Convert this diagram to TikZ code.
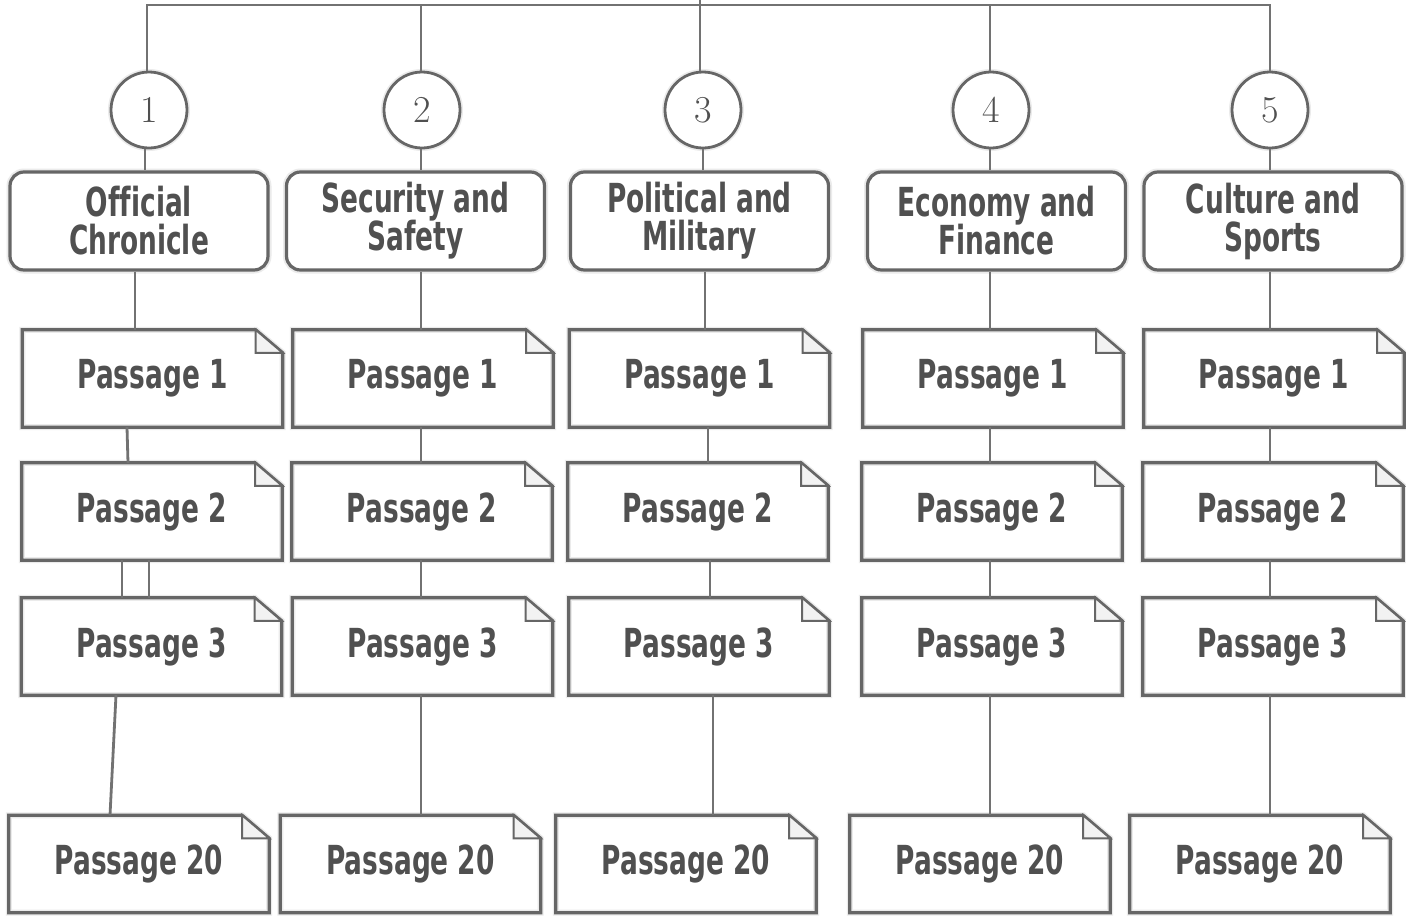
\documentclass[tikz,border=0pt]{standalone}
\usepackage{fontspec}
\newfontfamily\labfam[FakeStretch=0.66,Ligatures=NoCommon]{DejaVu Sans}
\definecolor{linegray}{HTML}{727272}
\definecolor{boxgray}{HTML}{666666}
\definecolor{txtgray}{HTML}{505050}
\definecolor{foldgray}{HTML}{F2F2F2}
\newcommand\labfont{\labfam\bfseries\fontsize{40}{42}\selectfont}
\newcommand\numfont{\fontsize{38}{38}\selectfont}
\newcommand\psg[4]{%
  \node[pnode] (#1) at (#2,#3) {#4};
  \draw[pline,preaction={draw=black!8,line width=6pt}] (#1.south west) -- (#1.north west) -- ([xshift=-27pt]#1.north east) -- ([yshift=-23pt]#1.north east) -- (#1.south east) -- cycle;
  \draw[pline,fill=foldgray,line width=2pt] ([xshift=-27pt]#1.north east) |- ([yshift=-23pt]#1.north east) -- cycle;
}
\tikzset{
  conn/.style={draw=linegray, line width=2.8pt},
  circ/.style={circle, draw=boxgray, line width=2.8pt, minimum size=76pt, inner sep=0pt, font=\numfont, text=txtgray, fill=white, preaction={draw=black!8, line width=6pt}},
  cat/.style={rectangle, rounded corners=14pt, draw=boxgray, line width=3.2pt, minimum width=258pt, minimum height=98pt, align=center, font=\labfont, text=txtgray, fill=white, inner sep=2pt, preaction={draw=black!8, line width=7pt}},
  pnode/.style={rectangle, minimum width=260pt, minimum height=97pt, inner sep=0pt, font=\labfont, text=txtgray},
  pline/.style={draw=boxgray, line width=3.2pt, line join=miter},
}
\begin{document}
\begin{tikzpicture}[x=1pt,y=-1pt]
\useasboundingbox (0,0) rectangle (1406,916);
\fill[white] (0,0) rectangle (1406,916);
% circles
\node[circ] (c1) at (149,110) {1};
\node[circ] (c2) at (422,110) {2};
\node[circ] (c3) at (703,110) {3};
\node[circ] (c4) at (991,110) {4};
\node[circ] (c5) at (1270,110) {5};
% top bus
\coordinate (bus) at (700,5);
\coordinate (topend) at (700,0);
\draw[conn] ([xshift=-2pt]c1.north) |- (bus) -| (c5.north);
\draw[conn] (topend) -- ([xshift=-3pt]c3.north);
\draw[conn] ([xshift=-1pt]c2.north) -- ([xshift=-1pt]c2.north |- bus);
\draw[conn] ([xshift=-1pt]c4.north) -- ([xshift=-1pt]c4.north |- bus);
% categories
\node[cat] (k1) at (139,221) {Official\\[-4pt]Chronicle};
\node[cat] (k2) at (415.5,221) {Security and\\[-4pt]Safety};
\node[cat] (k3) at (699.5,221) {Political and\\[-4pt]Military};
\node[cat] (k4) at (996.5,221) {Economy and\\[-4pt]Finance};
\node[cat] (k5) at (1273,221) {Culture and\\[-4pt]Sports};
\draw[conn] ([xshift=-4pt]c1.south) -- ([xshift=6pt]k1.north);
\draw[conn] ([xshift=-1pt]c2.south) -- ([xshift=5.5pt]k2.north);
\draw[conn] (c3.south) -- ([xshift=3.5pt]k3.north);
\draw[conn] ([xshift=-1pt]c4.south) -- ([xshift=-6.5pt]k4.north);
\draw[conn] (c5.south) -- ([xshift=-3pt]k5.north);
% passages column 1
\psg{p11}{152.5}{378.5}{Passage 1}
\psg{p12}{152}{511.5}{Passage 2}
\psg{p13}{151.5}{646.5}{Passage 3}
\psg{p14}{139}{864}{Passage 20}
% column 2
\psg{p21}{423}{378.5}{Passage 1}
\psg{p22}{422}{511.5}{Passage 2}
\psg{p23}{422.5}{646.5}{Passage 3}
\psg{p24}{410.5}{864}{Passage 20}
% column 3
\psg{p31}{699.5}{378.5}{Passage 1}
\psg{p32}{698}{511.5}{Passage 2}
\psg{p33}{699}{646.5}{Passage 3}
\psg{p34}{686}{864}{Passage 20}
% column 4
\psg{p41}{993}{378.5}{Passage 1}
\psg{p42}{992}{511.5}{Passage 2}
\psg{p43}{992}{646.5}{Passage 3}
\psg{p44}{980}{864}{Passage 20}
% column 5
\psg{p51}{1274}{378.5}{Passage 1}
\psg{p52}{1273}{511.5}{Passage 2}
\psg{p53}{1273}{646.5}{Passage 3}
\psg{p54}{1260}{864}{Passage 20}
% connectors column 1
\draw[conn] ([xshift=-4pt]k1.south) -- ([xshift=-17.5pt]p11.north);
\draw[conn] ([xshift=-25.5pt]p11.south) -- ([xshift=-24pt]p12.north);
\draw[conn] ([xshift=-30pt]p12.south) -- ([xshift=-29.5pt]p13.north);
\draw[conn] ([xshift=-3pt]p12.south) -- ([xshift=-2.5pt]p13.north);
\draw[conn] ([xshift=-35.5pt]p13.south) -- ([xshift=-29pt]p14.north);
% column 2
\draw[conn] ([xshift=5.5pt]k2.south) -- ([xshift=-2pt]p21.north);
\draw[conn] ([xshift=-2pt]p21.south) -- ([xshift=-1pt]p22.north);
\draw[conn] ([xshift=-1pt]p22.south) -- ([xshift=-1.5pt]p23.north);
\draw[conn] ([xshift=-1.5pt]p23.south) -- ([xshift=10.5pt]p24.north);
% column 3
\draw[conn] ([xshift=5.5pt]k3.south) -- ([xshift=5.5pt]p31.north);
\draw[conn] ([xshift=8.5pt]p31.south) -- ([xshift=10pt]p32.north);
\draw[conn] ([xshift=12pt]p32.south) -- ([xshift=11pt]p33.north);
\draw[conn] ([xshift=14pt]p33.south) -- ([xshift=27pt]p34.north);
% column 4
\draw[conn] ([xshift=-6.5pt]k4.south) -- ([xshift=-3pt]p41.north);
\draw[conn] ([xshift=-3pt]p41.south) -- ([xshift=-2pt]p42.north);
\draw[conn] ([xshift=-2pt]p42.south) -- ([xshift=-2pt]p43.north);
\draw[conn] ([xshift=-2pt]p43.south) -- ([xshift=10pt]p44.north);
% column 5
\draw[conn] ([xshift=-3pt]k5.south) -- ([xshift=-4pt]p51.north);
\draw[conn] ([xshift=-4pt]p51.south) -- ([xshift=-3pt]p52.north);
\draw[conn] ([xshift=-3pt]p52.south) -- ([xshift=-3pt]p53.north);
\draw[conn] ([xshift=-3pt]p53.south) -- ([xshift=10pt]p54.north);
\end{tikzpicture}
\end{document}
